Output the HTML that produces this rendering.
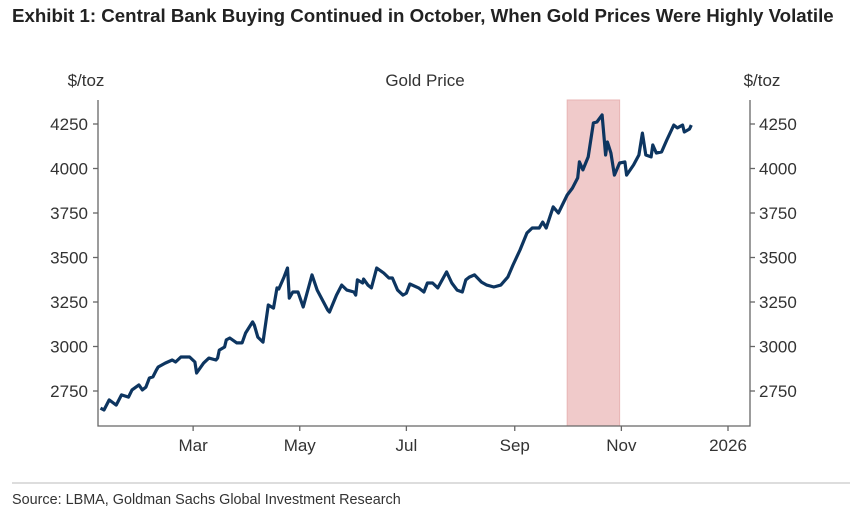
<!DOCTYPE html>
<html><head><meta charset="utf-8"><style>
html,body{margin:0;padding:0;background:#fff;width:866px;height:511px;overflow:hidden}
svg text{font-family:"Liberation Sans","DejaVu Sans",sans-serif}
</style></head><body>
<svg id="chart" width="866" height="511" xmlns="http://www.w3.org/2000/svg">
<text x="12" y="22" font-size="18.7" font-weight="bold" fill="#222">Exhibit 1: Central Bank Buying Continued in October, When Gold Prices Were Highly Volatile</text>
<text x="425" y="86" font-size="17" fill="#333" text-anchor="middle">Gold Price</text>
<text x="86" y="86" font-size="17" fill="#333" text-anchor="middle">$/toz</text>
<text x="762" y="86" font-size="17" fill="#333" text-anchor="middle">$/toz</text>
<g id="plot"></g>
<line x1="12" y1="483" x2="850" y2="483" stroke="#bbb" stroke-width="1"/>
<text x="12" y="504" font-size="14.4" fill="#333">Source: LBMA, Goldman Sachs Global Investment Research</text>
</svg>
<script>
const days=[6,8,11,15,18,22,24,28,30,32,34,36,38,39,43,47,49,52,57,60,61,65,68,72,73,74,77,78,80,84,87,89,93,94,96,99,102,105,107,108,111,113,114,116,119,122,127,130,136,137,141,144,147,151,152,153,156,156.5,159,161,164,168,171,173,176,179,181,183,188,191,193,196,199,204,207,210,213,215,217,220,224,227,231,235,239,242,246,250,253,257,259,261,265,268,273,276,279,280,282,285,288,290,293,295,296,298,300,303,306,307,311,314,316,318,321,322,324,327,330,334,336,339,340,343,344];
const prices=[2654,2643,2700,2671,2728,2716,2756,2784,2756,2772,2823,2829,2868,2885,2907,2924,2913,2941,2941,2913,2851,2907,2935,2924,2935,2980,2997,3037,3048,3020,3020,3076,3138,3121,3053,3025,3233,3216,3329,3323,3390,3441,3272,3306,3306,3222,3402,3317,3205,3194,3289,3345,3317,3306,3289,3374,3357,3379,3345,3329,3441,3413,3385,3385,3317,3289,3300,3351,3329,3306,3357,3357,3329,3419,3357,3317,3306,3374,3390,3402,3362,3345,3334,3345,3390,3458,3542,3638,3666,3666,3699,3666,3784,3750,3851,3890,3947,4037,3992,4065,4256,4261,4301,4076,4149,4087,3963,4031,4037,3963,4020,4076,4199,4076,4065,4132,4087,4093,4160,4244,4228,4244,4205,4222,4244];
const yTicks=[2750,3000,3250,3500,3750,4000,4250];
const xTickDays=[59,120,181,243,304,365];
const xTickLabels=["Mar","May","Jul","Sep","Nov","2026"];
const shadeRange=[273,303];

const NS="http://www.w3.org/2000/svg";
const L=98,R=750,B=426,T=100;
const xs=d=>90+d*638/365;
const ys=v=>124+(4250-v)*267/1500;
const g=document.getElementById('plot');
function mk(t,a){const e=document.createElementNS(NS,t);for(const k in a)e.setAttribute(k,a[k]);g.appendChild(e);return e;}

const sh=mk('rect',{x:xs(shadeRange[0]),y:T,width:xs(shadeRange[1])-xs(shadeRange[0]),height:B-T,fill:'#f0caca',stroke:'#e8b4b4','stroke-width':1});



const sp=mk('path',{d:`M${L},${T}V${B}H${R}V${T}`,fill:'none',stroke:'#666','stroke-width':1.3});



yTicks.forEach(v=>{
  const y=ys(v);
  const t1=mk('line',{x1:L-5,x2:L,y1:y,y2:y,stroke:'#666','stroke-width':1.3});
  
  
  const t2=mk('line',{x1:R,x2:R+5,y1:y,y2:y,stroke:'#666','stroke-width':1.3});
  
  
  const a=mk('text',{x:L-10,y:y+6,'font-size':17,fill:'#333','text-anchor':'end'});a.textContent=v;
  
  
  const b=mk('text',{x:R+9,y:y+6,'font-size':17,fill:'#333'});b.textContent=v;
  
  
});
xTickDays.forEach((d,i)=>{
  const x=xs(d);
  const t=mk('line',{x1:x,x2:x,y1:B,y2:B+5,stroke:'#666','stroke-width':1.3});
  
  
  const l=mk('text',{x:x,y:B+25,'font-size':17,fill:'#333','text-anchor':'middle'});l.textContent=xTickLabels[i];
  
  
});
const line=mk('path',{d:days.map((d,i)=>(i?'L':'M')+xs(d).toFixed(1)+','+ys(prices[i]).toFixed(1)).join(''),fill:'none',stroke:'#0d3560','stroke-width':3.2,'stroke-linejoin':'round'});


</script>
</body></html>
